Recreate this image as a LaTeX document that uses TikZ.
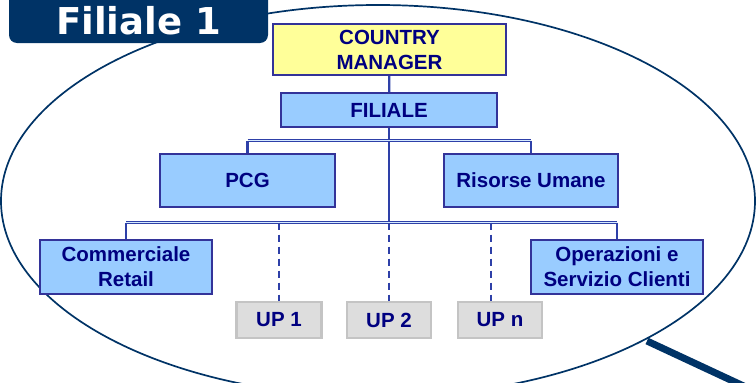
\documentclass[tikz,border=0pt]{standalone}
\usepackage{fontspec}
\setmainfont{Liberation Sans}
\newfontfamily\titlefont{DejaVu Sans}
\usepackage{tikz}
\usetikzlibrary{positioning, calc}
\definecolor{navy}{HTML}{000080}
\definecolor{lensblue}{HTML}{003366}
\definecolor{linkblue}{HTML}{2E40A8}
\definecolor{boxline}{HTML}{333399}
\definecolor{boxblue}{HTML}{99CCFF}
\definecolor{boxyellow}{HTML}{FFFF99}
\definecolor{upgray}{HTML}{DDDDDD}
\definecolor{upline}{HTML}{C4C4C4}
\tikzset{
    unit/.style={rectangle, draw=boxline, line width=2.4pt, fill=boxblue, text=navy, inner sep=0pt,
        font=\bfseries\fontsize{20.5}{25}\selectfont, align=center},
    head/.style={unit, fill=boxyellow},
    upbox/.style={unit, draw=upline, fill=upgray},
    link/.style={draw=linkblue, line width=2.2pt},
    bus/.style={draw=linkblue, line width=1.2pt, double=boxblue!40, double distance=1.2pt},
    dlink/.style={draw=linkblue, line width=2.8pt, dash pattern=on 7pt off 5pt},
    lens/.style={draw=lensblue, line width=1.7pt},
    handle/.style={draw=lensblue, line width=7pt}
}

\begin{document}
\begin{tikzpicture}[x=1pt, y=-1pt]
    \useasboundingbox (0,0) rectangle (756,383);
    \clip (0,0) rectangle (756,383);

    % Lens
    \draw[lens] (378,201) ellipse [x radius=377, y radius=196];
    \draw[handle] (647,341) -- (780,403);

    % Title
    \fill[lensblue, rounded corners=8pt] (9,-12) rectangle (268,43);
    \node[text=white, font=\titlefont\bfseries\fontsize{37}{40}\selectfont] (title) at (138.5,20.5) {Filiale 1};

    % Top
    \node[head, minimum width=233, minimum height=51] (cm) at (389.5,49.5) {COUNTRY\\MANAGER};
    \node[unit, minimum width=216, minimum height=34] (fil) at (389,110) {FILIALE};

    % Staff
    \node[unit, minimum width=175, minimum height=53] (pcg) at (247.5,180.5) {PCG};
    \node[unit, minimum width=174, minimum height=53] (ru) at (531,180.5) {Risorse Umane};

    % Lines
    \node[unit, minimum width=172, minimum height=54] (cr) at (126,267) {Commerciale\\Retail};
    \node[unit, minimum width=172, minimum height=54] (osc) at (617,267) {Operazioni e\\Servizio Clienti};

    % Production units
    \node[upbox, minimum width=85, minimum height=36] (up1) at (279,320) {UP 1};
    \node[upbox, minimum width=84, minimum height=36] (up2) at (389,320) {UP 2};
    \node[upbox, minimum width=84, minimum height=36] (upn) at (500,320) {UP n};

    % Connections
    \coordinate (b2) at (389,140.5);
    \coordinate (b3) at (389,222.5);
    \draw[link] (cm) -- (fil);
    \draw[link] (fil) -- (b3);
    \draw[link] (pcg.north |- b2) -- (pcg);
    \draw[link] (ru.north |- b2) -- (ru);
    \draw[bus] (pcg.north |- b2) -- (ru.north |- b2);
    \draw[link] (cr.north |- b3) -- (cr);
    \draw[link] (osc.north |- b3) -- (osc);
    \draw[bus] (cr.north |- b3) -- (osc.north |- b3);
    \draw[dlink] (up1.north |- b3) -- (up1);
    \draw[dlink] (b3) -- (up2);
    \draw[dlink] ([xshift=-9pt]upn.north |- b3) -- ([xshift=-9pt]upn.north);
\end{tikzpicture}
\end{document}
